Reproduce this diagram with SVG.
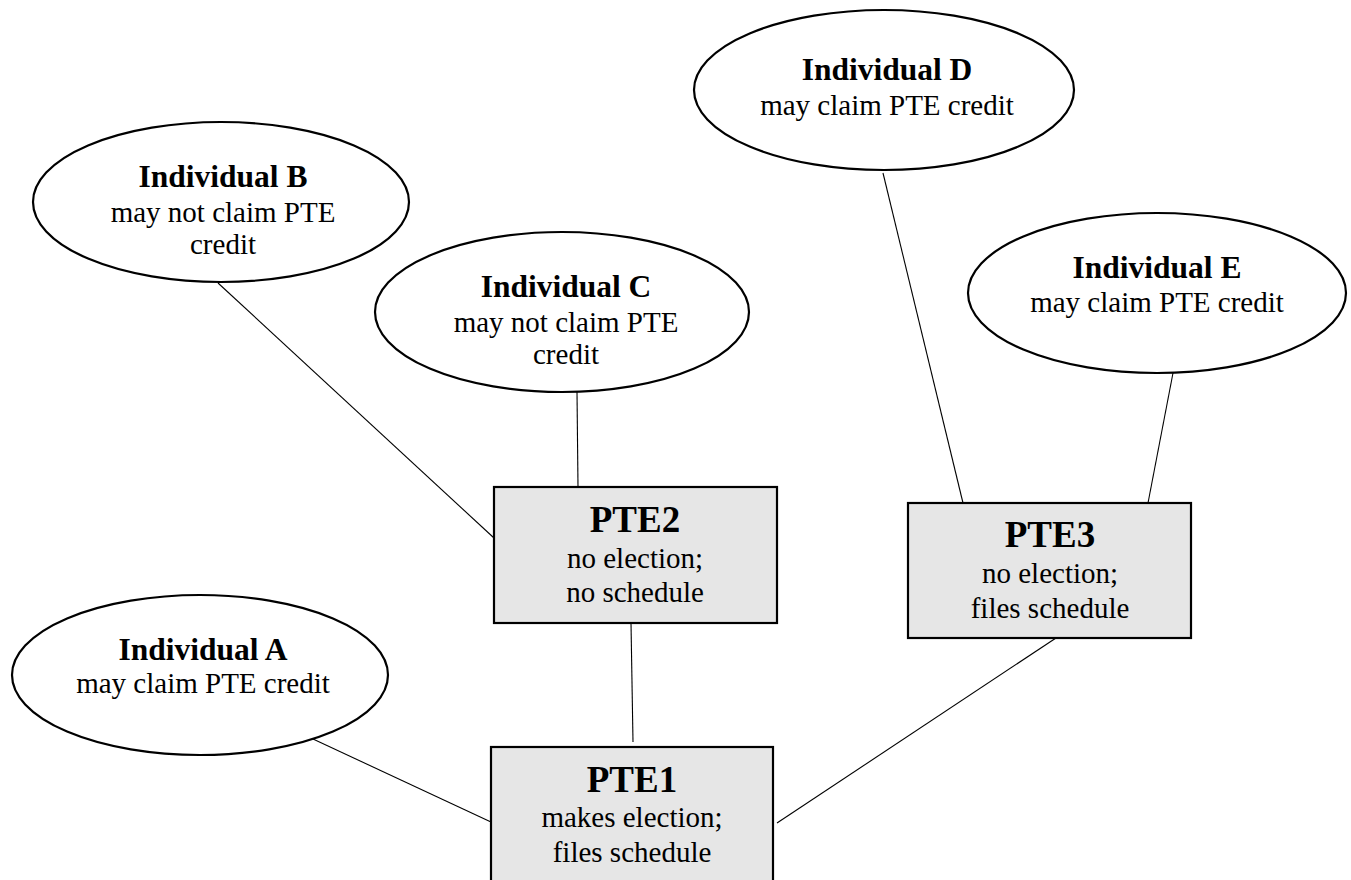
<svg xmlns="http://www.w3.org/2000/svg" width="1351" height="880" viewBox="0 0 1351 880">
<style>
text{font-family:"Liberation Serif","Times New Roman",serif;text-anchor:middle;fill:#000}
.h{font-weight:bold;font-size:31.5px}
.t{font-size:29px}
.p{font-weight:bold;font-size:37px}
.ell{fill:#fff;stroke:#000;stroke-width:2.2}
.box{fill:#e6e6e6;stroke:#000;stroke-width:2.2}
.con line{stroke:#000;stroke-width:1.1}
</style>
<rect width="1351" height="880" fill="#fff"/>
<g class="con" id="connectors">
<line x1="313" y1="739" x2="491" y2="822"/>
<line x1="777" y1="823" x2="1056" y2="638"/>
<line x1="631" y1="623" x2="633" y2="742"/>
<line x1="218" y1="283" x2="494" y2="538"/>
<line x1="577" y1="392" x2="578" y2="487"/>
<line x1="883" y1="173" x2="963" y2="503"/>
<line x1="1173" y1="373" x2="1148" y2="503"/>
</g>
<g id="individualA">
<ellipse class="ell" cx="200" cy="675" rx="188" ry="80"/>
<text class="h" x="203" y="660">Individual A</text>
<text class="t" x="203" y="693">may claim PTE credit</text>
</g>
<g id="individualB">
<ellipse class="ell" cx="221" cy="202" rx="188" ry="80"/>
<text class="h" x="223" y="187">Individual B</text>
<text class="t" x="223" y="222">may not claim PTE</text>
<text class="t" x="223" y="254">credit</text>
</g>
<g id="individualC">
<ellipse class="ell" cx="562" cy="312" rx="187" ry="80"/>
<text class="h" x="566" y="297">Individual C</text>
<text class="t" x="566" y="332">may not claim PTE</text>
<text class="t" x="566" y="364">credit</text>
</g>
<g id="individualD">
<ellipse class="ell" cx="884" cy="90" rx="190" ry="80"/>
<text class="h" x="887" y="80">Individual D</text>
<text class="t" x="887" y="115">may claim PTE credit</text>
</g>
<g id="individualE">
<ellipse class="ell" cx="1157" cy="293" rx="189" ry="80"/>
<text class="h" x="1157" y="278">Individual E</text>
<text class="t" x="1157" y="312">may claim PTE credit</text>
</g>
<g id="pte2">
<rect class="box" x="494" y="487" width="283" height="136"/>
<text class="p" x="635" y="532">PTE2</text>
<text class="t" x="635" y="568">no election;</text>
<text class="t" x="635" y="602">no schedule</text>
</g>
<g id="pte3">
<rect class="box" x="908" y="503" width="283" height="135"/>
<text class="p" x="1050" y="547">PTE3</text>
<text class="t" x="1050" y="583">no election;</text>
<text class="t" x="1050" y="618">files schedule</text>
</g>
<g id="pte1">
<rect class="box" x="491" y="747" width="282" height="150"/>
<text class="p" x="632" y="792">PTE1</text>
<text class="t" x="632" y="827">makes election;</text>
<text class="t" x="632" y="862">files schedule</text>
</g>
</svg>
